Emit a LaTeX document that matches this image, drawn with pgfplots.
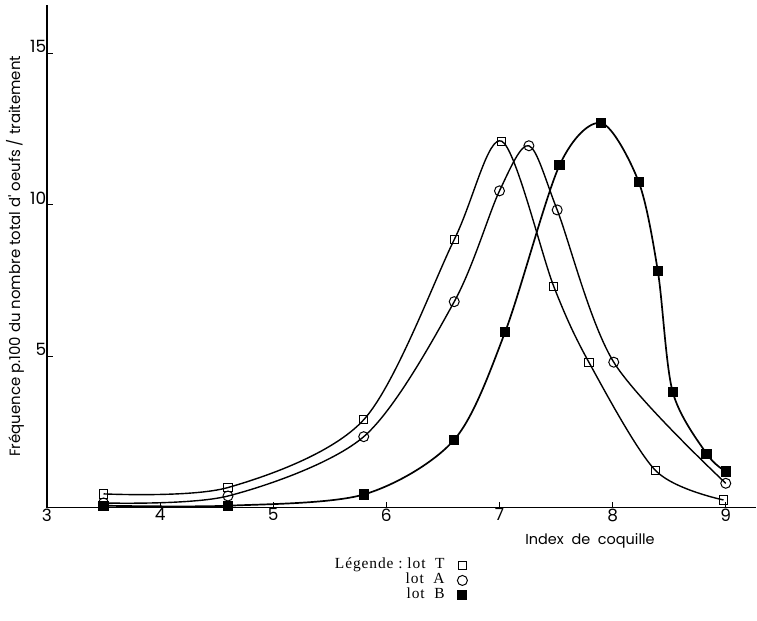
\documentclass[border=0pt]{standalone}
\usepackage{fontspec}
\setmainfont{Liberation Serif}
\newfontfamily\geo{Poppins}
\newfontfamily\legfont[LetterSpace=6]{Liberation Serif}
\usepackage{pgfplots}
\pgfplotsset{compat=1.18}

% lot T (open squares)
\pgfplotstableread{
x y
3.5 0.45
4.6 0.66
5.8 2.9
6.6 8.85
7.02 12.1
7.48 7.3
7.79 4.8
8.38 1.22
8.98 0.25
}\lotT
% lot A (open circles)
\pgfplotstableread{
x y
3.5 0.15
4.6 0.38
5.8 2.34
6.6 6.8
7.0 10.46
7.26 11.95
7.51 9.83
8.01 4.8
9.0 0.8
}\lotA
% lot B (filled squares)
\pgfplotstableread{
x y
3.5 0.06
4.6 0.06
5.8 0.43
6.6 2.24
7.05 5.8
7.53 11.3
7.9 12.7
8.23 10.76
8.4 7.8
8.53 3.83
8.83 1.78
9.0 1.19
}\lotB

\begin{document}
\begin{tikzpicture}[x=1bp,y=1bp]
\path (-47,-113) rectangle (710,508);
\begin{axis}[
    scale only axis,
    width=710bp, height=503bp,
    xmin=3, xmax=9.27, ymin=0, ymax=16.6,
    axis x line=bottom, axis y line=left,
    axis line style={-, line width=1.4bp},
    xtick={3,...,9}, ytick={5,10,15},
    tick style={black, line width=1bp},
    major tick length=6bp, tick align=inside,
    /pgf/number format/assume math mode=true,
    ticklabel style={font=\geo\fontsize{17}{17}\selectfont},
    yticklabel style={anchor=south east, inner sep=0.5bp},
    xticklabel style={anchor=north, inner sep=1bp},
    ylabel={Fréquence p.100 du nombre total d' oeufs / traitement},
    ylabel style={font=\geo\fontsize{15}{15}\selectfont, at={(axis description cs:-0.045,0.5)}, anchor=center},
    clip=false,
    legend plot pos=right,
    legend cell align=right,
    legend style={draw=none, fill=none, at={(0.593,-0.1)}, anchor=north east,
        font=\legfont\fontsize{15.5}{15}\selectfont, row sep=0pt, inner sep=0pt,
        nodes={inner ysep=0.5bp, inner xsep=0pt, text height=10.5bp, text depth=3.5bp}},
    legend image code/.code={\path (0bp,0bp); \draw[#1, only marks] plot coordinates {(17bp,0bp)};},
]
\addplot[black, line width=1.4bp, smooth, tension=0.5, mark=square, mark size=4.2bp, mark options={fill=white, line width=1bp, solid}] table {\lotT};
\addlegendentry{Légende :\ lot\ \ T}
\addplot[black, line width=1.4bp, smooth, tension=0.5, mark=o, mark size=5bp, mark options={fill=white, line width=1bp, solid}] table {\lotA};
\addlegendentry{lot\ \ A}
\addplot[black, line width=1.7bp, smooth, tension=0.5, mark=square*, mark size=4.2bp, mark options={fill=black, solid}] table {\lotB};
\addlegendentry{lot\ \ B}
\node[font=\geo\fontsize{14.5}{14.5}\selectfont, anchor=north] at (axis cs:7.8,0) [yshift=-22bp] {Index\ \ de\ \ coquille};
\end{axis}
\end{tikzpicture}
\end{document}
